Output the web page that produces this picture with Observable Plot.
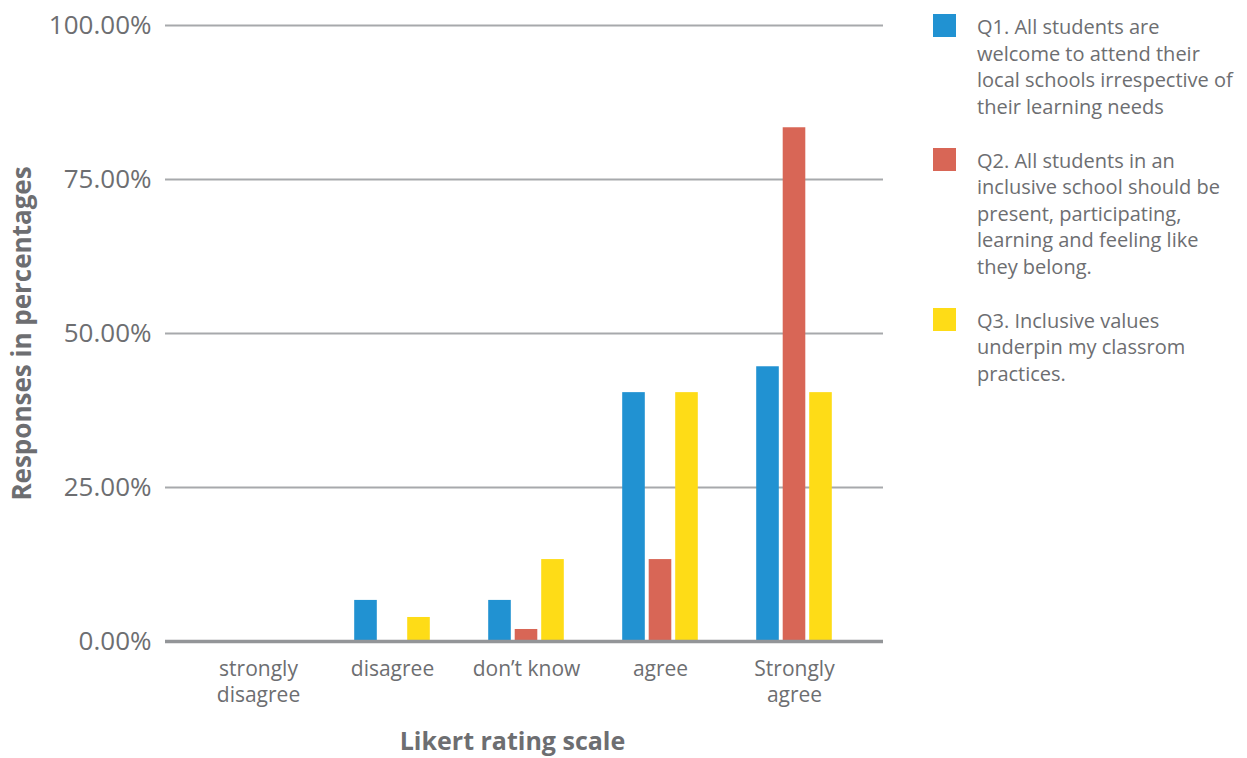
<!DOCTYPE html>
<html>
<head>
<meta charset="utf-8">
<script src="https://cdn.jsdelivr.net/npm/d3@7"></script>
<script src="https://cdn.jsdelivr.net/npm/@observablehq/plot@0.6"></script>
<style>
  html, body { margin: 0; padding: 0; background: #fff; }
  body { width: 1247px; height: 758px; position: relative; overflow: hidden; font-family: "Open Sans", "Noto Sans", sans-serif; }
  #chart { position: absolute; left: 0; top: 0; }
  #legend { position: absolute; left: 933px; top: 14px; color: #6d6e71; font-size: 20px; line-height: 26.5px; }
  .item { position: relative; padding-left: 44px; margin-bottom: 27.5px; white-space: nowrap; }
  .sw { position: absolute; left: 0; top: 0; width: 23px; height: 23px; }
</style>
</head>
<body>
<div id="chart"></div>
<div id="legend"></div>
<script>
// ---- data ----
const categories = ["strongly disagree", "disagree", "don’t know", "agree", "Strongly agree"];
const categoryLabels = ["strongly\ndisagree", "disagree", "don’t know", "agree", "Strongly\nagree"];
const questions = [
  "Q1. All students are\nwelcome to attend their\nlocal schools irrespective of\ntheir learning needs",
  "Q2. All students in an\ninclusive school should be\npresent, participating,\nlearning and feeling like\nthey belong.",
  "Q3. Inclusive values\nunderpin my classrom\npractices."
];
const q1Values = [0, 6.67, 6.67, 40.4, 44.6];
const q2Values = [0, 0, 1.95, 13.3, 83.4];
const q3Values = [0, 3.9, 13.3, 40.4, 40.4];
const yTicks = [0, 25, 50, 75, 100];
const colors = ["#2192d2", "#d86656", "#fedc17"];

// ---- layout ----
const W = 900, H = 758;
const mL = 165, mR = 17, mT = 25, mB = 117;
const inL = 25, inR = 21;
const barW = 23, barGap = 26.5;
const bandW = (W - mL - mR - inL - inR) / categories.length;
const barInset = (bandW - barW) / 2;
const textColor = "#6d6e71";

const series = [q1Values, q2Values, q3Values];
const labelOf = new Map(categories.map((c, i) => [c, categoryLabels[i]]));

const barMarks = series.map((vals, i) =>
  Plot.barY(categories.map((c, j) => ({cat: c, value: vals[j]})), {
    x: "cat", y: "value", fill: colors[i],
    insetLeft: barInset, insetRight: barInset, dx: (i - 1) * barGap
  })
);

const chart = Plot.plot({
  width: W, height: H,
  marginLeft: mL, marginRight: mR, marginTop: mT, marginBottom: mB,
  style: {fontFamily: '"Open Sans", "Noto Sans", sans-serif', color: textColor, background: "#fff"},
  x: {domain: categories, padding: 0, insetLeft: inL, insetRight: inR, axis: null},
  y: {domain: [0, 100], axis: null},
  marks: [
    Plot.ruleY(yTicks.filter(d => d > 0), {stroke: "#a7a9ac", strokeWidth: 2}),
    ...barMarks,
    Plot.ruleY([0], {stroke: "#939598", strokeWidth: 3.5}),
    Plot.axisY({ticks: yTicks, tickFormat: d => d.toFixed(2) + "%", tickSize: 0, tickPadding: 14,
      fontSize: 26, fill: textColor, label: null}),
    Plot.axisX({tickSize: 0, tickPadding: 16, fontSize: 21, lineHeight: 1.24, fill: textColor,
      tickFormat: d => labelOf.get(d), label: null}),
    Plot.text(["Responses in percentages"], {frameAnchor: "left", textAnchor: "middle", rotate: -90, dx: -143,
      fontSize: 26, fontWeight: "bold", fill: textColor}),
    Plot.text(["Likert rating scale"], {frameAnchor: "bottom", dy: 108, dx: -12,
      fontSize: 25, fontWeight: "bold", fill: textColor})
  ]
});
document.getElementById("chart").appendChild(chart);

// ---- legend ----
const legend = document.getElementById("legend");
questions.forEach((q, i) => {
  const item = document.createElement("div");
  item.className = "item";
  const sw = document.createElement("span");
  sw.className = "sw";
  sw.style.background = colors[i];
  item.appendChild(sw);
  q.split("\n").forEach((line, k) => {
    if (k > 0) item.appendChild(document.createElement("br"));
    item.appendChild(document.createTextNode(line));
  });
  legend.appendChild(item);
});
</script>
</body>
</html>
